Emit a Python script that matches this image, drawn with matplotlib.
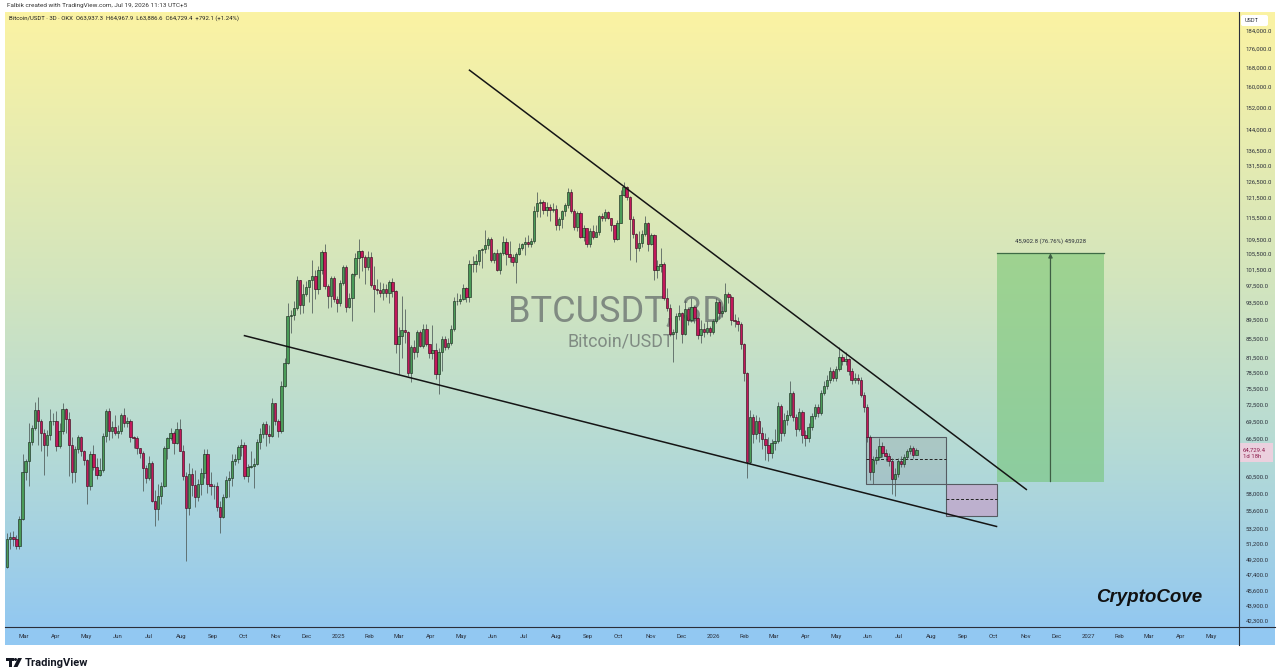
import numpy as np
import pandas as pd
import matplotlib
matplotlib.use("Agg")
import matplotlib.pyplot as plt
import matplotlib.dates as mdates
import matplotlib.ticker as mticker
from matplotlib.patches import Rectangle, Polygon, Circle, FancyBboxPatch
from matplotlib.colors import LinearSegmentedColormap

plt.rcParams['font.family'] = ['Roboto', 'DejaVu Sans']

# ---------------- data (prices in thousand USDT, 3-day candles) ----------------
first_candle = "2024-02-14"
first_open = 48.3
closes = [
    51.8, 52.1, 51.8, 51.0, 54.5, 61.2, 63.0, 66.1, 68.3, 71.5,
    69.5, 67.6, 65.5, 67.2, 69.5, 69.6, 65.4, 67.8, 71.6, 70.0,
    65.6, 61.3, 64.9, 66.8, 64.5, 63.1, 59.1, 64.0, 62.0, 60.8,
    61.6, 67.0, 71.4, 67.9, 68.5, 67.6, 67.8, 70.6, 69.3, 69.6,
    66.8, 66.6, 65.0, 64.3, 61.8, 60.3, 62.7, 57.0, 55.9, 57.7,
    59.2, 65.0, 66.7, 67.6, 65.8, 68.2, 64.6, 60.7, 56.0, 60.9,
    59.3, 57.6, 59.4, 61.1, 64.1, 59.4, 59.1, 59.1, 56.2, 54.8,
    57.6, 60.0, 60.3, 63.0, 63.3, 65.2, 65.6, 60.6, 62.1, 62.2,
    62.5, 66.0, 67.4, 69.0, 67.4, 67.0, 72.7, 69.5, 67.8, 75.9,
    80.4, 90.4, 90.6, 92.3, 98.9, 93.0, 95.6, 97.2, 98.8, 99.9,
    96.6, 101.4, 106.1, 97.5, 94.9, 99.4, 94.3, 93.4, 98.1, 102.1,
    92.5, 94.5, 100.5, 104.5, 106.2, 104.7, 102.1, 104.7, 97.7, 96.6,
    96.5, 95.8, 96.6, 95.8, 98.3, 96.3, 84.3, 86.0, 87.2, 86.8,
    78.5, 83.7, 82.6, 86.8, 83.8, 87.5, 84.3, 82.5, 83.1, 78.3,
    82.6, 85.3, 83.7, 84.5, 87.5, 93.8, 93.8, 94.2, 96.9, 94.7,
    103.0, 102.8, 103.6, 106.5, 106.8, 107.8, 109.4, 103.9, 105.8, 101.5,
    105.7, 108.6, 105.6, 104.6, 103.3, 105.5, 107.2, 108.3, 108.8, 108.2,
    108.9, 117.5, 119.8, 120.0, 117.8, 118.7, 117.6, 117.9, 113.3, 115.0,
    117.5, 119.3, 123.3, 117.4, 112.9, 116.9, 110.1, 112.5, 108.2, 111.7,
    110.2, 111.5, 116.0, 115.3, 117.1, 115.3, 113.3, 109.6, 114.0, 122.3,
    124.7, 121.5, 115.0, 111.0, 107.0, 108.5, 110.9, 114.1, 108.3, 110.6,
    101.3, 102.3, 103.0, 94.5, 92.2, 86.5, 86.8, 90.4, 91.0, 86.5,
    92.0, 89.5, 92.5, 90.0, 86.2, 87.5, 86.8, 87.8, 86.8, 89.2,
    93.5, 91.0, 91.5, 95.5, 94.8, 89.5, 89.2, 88.5, 84.2, 78.4,
    62.8, 70.2, 67.4, 69.6, 67.6, 66.5, 65.6, 64.2, 65.8, 66.2,
    72.2, 67.6, 69.8, 70.6, 74.6, 70.2, 68.2, 71.2, 67.2, 66.6,
    68.6, 70.4, 72.0, 71.0, 74.6, 76.0, 77.0, 78.8, 77.4, 79.2,
    81.6, 80.8, 81.2, 78.8, 77.0, 77.5, 77.0, 74.3, 72.0, 66.8,
    61.3, 63.2, 63.6, 65.3, 64.3, 63.8, 63.0, 60.2, 61.0, 63.0,
    62.5, 63.6, 64.5, 65.1, 63.9373, 64.7294]
highs = [
    52.6, 52.8, 52.9, 52.4, 54.9, 64.0, 63.3, 69.2, 68.9, 72.9,
    73.8, 70.0, 68.2, 68.0, 71.7, 70.9, 71.3, 69.3, 72.7, 71.8,
    71.2, 66.8, 65.4, 67.2, 67.0, 64.7, 63.3, 64.5, 65.5, 63.5,
    63.4, 67.5, 71.6, 71.9, 69.5, 70.6, 68.8, 71.0, 71.9, 70.2,
    70.0, 67.0, 67.0, 65.1, 64.6, 62.4, 63.8, 63.0, 58.5, 59.4,
    59.8, 65.3, 66.9, 68.4, 67.8, 69.4, 70.0, 65.6, 61.2, 62.7,
    61.8, 61.5, 60.2, 61.8, 64.9, 64.9, 61.2, 59.5, 59.8, 57.0,
    58.0, 60.6, 61.4, 64.1, 64.0, 65.5, 66.5, 66.0, 62.5, 64.5,
    63.4, 66.5, 68.4, 69.4, 69.5, 68.8, 73.6, 72.8, 70.0, 76.9,
    81.5, 93.3, 91.8, 93.8, 99.8, 99.0, 98.0, 98.6, 99.0, 104.0,
    101.3, 102.5, 106.5, 108.3, 98.0, 99.9, 99.8, 95.0, 98.9, 102.7,
    102.7, 95.8, 100.7, 105.8, 109.6, 106.5, 105.3, 106.4, 106.0, 102.5,
    99.2, 98.5, 98.1, 97.8, 98.8, 99.5, 96.5, 88.0, 95.0, 92.0,
    87.0, 84.0, 85.2, 87.4, 87.4, 88.6, 88.6, 84.4, 88.4, 84.6,
    83.5, 86.0, 86.0, 85.5, 88.4, 94.7, 95.8, 95.5, 97.9, 97.2,
    104.0, 105.0, 105.5, 106.7, 107.2, 112.0, 110.2, 110.0, 106.0, 106.8,
    106.0, 110.4, 109.8, 108.9, 105.6, 106.0, 108.5, 108.5, 110.0, 110.6,
    109.8, 118.9, 123.2, 120.9, 120.8, 120.2, 119.5, 119.8, 119.2, 115.8,
    117.6, 119.7, 124.4, 124.2, 117.9, 117.4, 117.4, 113.5, 112.6, 112.5,
    113.4, 113.3, 116.4, 116.8, 117.9, 117.5, 115.5, 113.5, 114.8, 123.8,
    126.2, 124.9, 122.0, 115.9, 111.2, 111.7, 112.0, 116.0, 114.3, 111.2,
    110.8, 104.0, 107.0, 103.4, 96.9, 93.2, 87.5, 91.0, 92.8, 91.3,
    94.0, 92.5, 94.6, 92.8, 90.2, 89.5, 88.8, 89.2, 88.2, 89.8,
    94.6, 94.0, 92.6, 98.2, 96.0, 95.2, 90.8, 90.2, 89.0, 84.5,
    78.6, 71.5, 70.8, 70.6, 70.2, 68.5, 67.5, 66.8, 66.5, 68.2,
    72.9, 72.5, 71.0, 71.5, 76.8, 74.9, 70.8, 71.8, 71.5, 68.0,
    69.2, 71.0, 72.6, 72.6, 75.1, 76.9, 78.0, 79.6, 79.2, 79.8,
    83.7, 82.2, 82.6, 81.5, 79.4, 78.5, 78.2, 77.6, 74.8, 72.5,
    67.2, 63.8, 64.8, 66.7, 66.0, 64.9, 64.2, 63.4, 61.8, 63.4,
    63.8, 64.0, 64.9, 65.6, 65.4, 64.9679]
lows = [
    48.2, 50.6, 50.9, 50.6, 50.5, 54.4, 60.0, 59.2, 65.6, 68.0,
    65.6, 64.5, 60.8, 63.8, 66.4, 68.9, 64.5, 65.0, 67.4, 67.5,
    60.7, 59.6, 59.7, 64.2, 63.7, 62.4, 56.5, 58.6, 61.6, 60.2,
    60.6, 61.3, 66.1, 66.3, 66.6, 67.1, 66.6, 67.3, 68.5, 68.5,
    66.0, 65.1, 64.1, 63.4, 58.4, 59.6, 60.1, 56.8, 53.5, 54.3,
    56.6, 59.0, 63.3, 66.4, 64.0, 65.7, 64.5, 60.0, 49.1, 55.0,
    57.7, 56.1, 57.0, 57.9, 60.3, 58.1, 57.8, 57.2, 55.6, 52.6,
    54.6, 57.4, 57.5, 59.2, 62.4, 62.7, 63.8, 60.2, 59.8, 61.8,
    58.9, 62.4, 64.8, 66.7, 65.3, 65.8, 66.8, 68.8, 66.8, 67.5,
    75.7, 80.2, 86.6, 89.4, 91.8, 90.8, 91.0, 94.9, 93.6, 91.0,
    94.2, 95.6, 100.5, 96.8, 92.2, 92.5, 93.5, 91.3, 92.7, 97.7,
    91.2, 92.2, 89.3, 99.9, 99.5, 101.2, 97.8, 101.5, 97.1, 91.2,
    95.5, 94.7, 94.0, 94.8, 93.4, 94.8, 82.5, 78.2, 81.4, 84.6,
    77.8, 76.6, 81.2, 81.7, 83.6, 83.5, 83.9, 81.5, 81.2, 77.3,
    74.5, 78.9, 83.0, 83.2, 84.0, 87.1, 92.8, 93.2, 94.0, 93.5,
    93.7, 100.8, 100.8, 102.6, 102.0, 105.8, 106.9, 103.5, 103.1, 101.2,
    100.4, 105.3, 102.7, 103.4, 102.3, 98.2, 105.3, 106.5, 105.2, 107.3,
    107.5, 108.4, 115.8, 115.7, 116.6, 116.0, 114.7, 117.3, 112.0, 111.9,
    112.7, 116.0, 118.2, 116.8, 112.1, 111.8, 109.8, 109.0, 107.5, 107.3,
    109.6, 110.0, 110.7, 114.6, 114.5, 115.0, 111.8, 108.6, 109.2, 113.9,
    121.8, 120.6, 104.0, 109.7, 103.5, 106.4, 107.3, 110.4, 106.3, 107.8,
    98.9, 99.3, 100.8, 94.0, 91.5, 86.1, 80.6, 85.3, 89.6, 84.5,
    86.2, 88.3, 89.0, 88.9, 85.3, 84.6, 85.8, 86.5, 86.0, 86.5,
    88.9, 89.8, 90.2, 91.2, 93.3, 88.4, 87.9, 87.0, 83.2, 76.8,
    60.3, 62.5, 65.8, 66.5, 66.0, 64.8, 63.2, 62.9, 63.5, 64.7,
    65.9, 66.2, 67.0, 68.8, 70.2, 69.5, 67.0, 67.8, 65.9, 65.3,
    66.1, 68.0, 69.9, 70.2, 70.6, 74.2, 75.3, 76.5, 76.8, 76.9,
    78.9, 79.9, 80.0, 78.0, 76.2, 76.5, 76.2, 73.8, 71.2, 66.0,
    60.0, 59.5, 62.5, 63.2, 63.6, 63.0, 62.2, 58.0, 57.7, 60.5,
    62.0, 62.1, 63.3, 64.0, 63.5, 63.8866]

price_ticks = [184000, 176000, 168000, 160000, 152000, 144000, 136500, 131500,
               126500, 121500, 115500, 109500, 105500, 101500, 97500, 93500,
               89500, 85500, 81500, 78500, 75500, 72500, 69500, 66500, 60500,
               58000, 55600, 53200, 51200, 49200, 47400, 45600, 43900, 42300]
month_start = "2024-03-01"
month_labels = ["Mar", "Apr", "May", "Jun", "Jul", "Aug", "Sep", "Oct", "Nov", "Dec",
                "2025", "Feb", "Mar", "Apr", "May", "Jun", "Jul", "Aug", "Sep", "Oct", "Nov", "Dec",
                "2026", "Feb", "Mar", "Apr", "May", "Jun", "Jul", "Aug", "Sep", "Oct", "Nov", "Dec",
                "2027", "Feb", "Mar", "Apr", "May"]

upper_line_dates = ["2025-05-09", "2026-11-02"]
upper_line_prices = [166870, 58650]
lower_line_dates = ["2024-10-02", "2026-10-04"]
lower_line_prices = [86070, 53480]
grey_box_dates = ["2026-05-30", "2026-08-16"]
grey_box_prices = [59520, 66900]
pink_box_dates = ["2026-08-16", "2026-10-04"]
pink_box_prices = [54950, 59520]
green_box_dates = ["2026-10-04", "2027-01-17"]
green_box_prices = [59800, 105702.8]
range_label = "45,902.8 (76.76%) 459,028"
last_price = 64729.4
last_price_text = "64,729.4"
countdown_text = "1d 18h"
header1 = "Falbik created with TradingView.com, Jul 19, 2026 11:13 UTC+5"
header2 = "Bitcoin/USDT \u00b7 3D \u00b7 OKX  O63,937.3  H64,967.9  L63,886.6  C64,729.4  +792.1 (+1.24%)"

# ---------------- figure layout (pixels) ----------------
W, H = 1280, 671
PL, PR, PT, PB = 5, 1239, 12, 627
AXR, TB = 1275, 645
fig = plt.figure(figsize=(W / 100, H / 100), dpi=100)
fig.patch.set_facecolor("white")


def fx(px):
    return px / W


def fy(py):
    return 1 - py / H


# background gradient
bg = fig.add_axes([fx(PL), fy(TB), fx(AXR) - fx(PL), fy(PT) - fy(TB)], zorder=0)
cmap = LinearSegmentedColormap.from_list(
    "bg", [(0.0, "#FBF3A3"), (0.42, "#D3E5BD"), (0.70, "#B4DAD6"), (1.0, "#8FC6F3")])
bg.imshow(np.linspace(0, 1, 256).reshape(-1, 1), aspect="auto", cmap=cmap,
          extent=[0, 1, 0, 1], origin="upper")
bg.axis("off")

# main price axes
ax = fig.add_axes([fx(PL), fy(PB), fx(PR) - fx(PL), fy(PT) - fy(PB)], zorder=2)
ax.patch.set_alpha(0)
ax.set_yscale("log")
ref = mdates.date2num(pd.Timestamp("2025-01-01"))
ax.set_xlim(ref - 324.1, ref + 877.0)
ax.set_ylim(41620, 192930)

opens = np.array([first_open] + closes[:-1]) * 1000
c = np.array(closes) * 1000
h = np.array(highs) * 1000
l = np.array(lows) * 1000
dates = pd.date_range(first_candle, periods=len(closes), freq="3D")
x = mdates.date2num(dates)
up = c >= opens

green, red = "#4A9B58", "#C2185B"
ax.vlines(x, l, h, color="#4E5A58", lw=0.7, alpha=0.8, zorder=3)
ax.bar(x[up], (c - opens)[up], bottom=opens[up], width=2.3, color=green,
       edgecolor="#1E2E22", linewidth=0.45, zorder=4)
ax.bar(x[~up], (opens - c)[~up], bottom=c[~up], width=2.3, color=red,
       edgecolor="#3A1020", linewidth=0.45, zorder=4)

# trend lines
ax.plot(mdates.date2num(pd.to_datetime(upper_line_dates)), upper_line_prices,
        color="#151515", lw=1.1, zorder=5)
ax.plot(mdates.date2num(pd.to_datetime(lower_line_dates)), lower_line_prices,
        color="#151515", lw=1.1, zorder=5)


def box(dts, prices, face, alpha, edge, mid=True):
    x0, x1 = mdates.date2num(pd.to_datetime(dts))
    ax.add_patch(Rectangle((x0, prices[0]), x1 - x0, prices[1] - prices[0],
                           facecolor=face, alpha=alpha, edgecolor="none", zorder=2.5))
    ax.add_patch(Rectangle((x0, prices[0]), x1 - x0, prices[1] - prices[0],
                           facecolor="none", edgecolor=edge, lw=0.8, zorder=2.6))
    if mid:
        m = (prices[0] + prices[1]) / 2
        ax.plot([x0, x1], [m, m], color="#222222", lw=0.7, ls=(0, (3, 2)), zorder=2.7)


box(grey_box_dates, grey_box_prices, "#8A8F96", 0.25, "#555B62")
box(pink_box_dates, pink_box_prices, "#C3A8CB", 0.8, "#555B62")

gx0, gx1 = mdates.date2num(pd.to_datetime(green_box_dates))
ax.add_patch(Rectangle((gx0, green_box_prices[0]), gx1 - gx0,
                       green_box_prices[1] - green_box_prices[0],
                       facecolor="#6CC26A", alpha=0.52, edgecolor="none", zorder=2.5))
ax.plot([gx0, gx1], [green_box_prices[1]] * 2, color="#3E6B45", lw=0.9, zorder=2.7)
gxm = (gx0 + gx1) / 2
ax.annotate("", xy=(gxm, green_box_prices[1]), xytext=(gxm, green_box_prices[0]),
            arrowprops=dict(arrowstyle="-|>", color="#3E5E44", lw=0.9,
                            mutation_scale=6, shrinkA=0, shrinkB=0), zorder=2.8)
ax.annotate(range_label, xy=(gxm, green_box_prices[1]), xytext=(0, 8.5),
            textcoords="offset points", ha="center", va="center",
            fontsize=4.3, color="#2A2E39", zorder=6)

# axes ticks
ax.yaxis.tick_right()
ax.set_yticks(price_ticks)
ax.set_yticklabels([f"{v:,.1f}" for v in price_ticks])
ax.yaxis.set_minor_locator(mticker.NullLocator())
ax.yaxis.set_minor_formatter(mticker.NullFormatter())
ax.tick_params(axis="y", length=0, pad=5, labelsize=4.3, colors="#2A2E39")
month_ticks = pd.date_range(month_start, periods=len(month_labels), freq="MS")
ax.set_xticks(mdates.date2num(month_ticks))
ax.set_xticklabels(month_labels)
ax.tick_params(axis="x", length=0, pad=5.0, labelsize=4.3, colors="#2A2E39")
for s in ax.spines.values():
    s.set_visible(False)

# overlay in pixel coordinates
ov = fig.add_axes([0, 0, 1, 1], zorder=1)
ov.set_xlim(0, W)
ov.set_ylim(H, 0)
ov.axis("off")
ov.patch.set_alpha(0)
ov.add_patch(Rectangle((PL, PB), AXR - PL, TB - PB, facecolor="#92C8F2", edgecolor="none"))
ov.text(617, 322, "BTCUSDT, 3D", fontsize=26, color="#737C77", alpha=0.85,
        ha="center", va="baseline", family=["Roboto", "DejaVu Sans"])
ov.text(621, 346.5, "Bitcoin/USDT", fontsize=12.8, color="#737C77", alpha=0.85,
        ha="center", va="baseline", family=["Roboto", "DejaVu Sans"])

top = fig.add_axes([0, 0, 1, 1], zorder=8)
top.set_xlim(0, W)
top.set_ylim(H, 0)
top.axis("off")
top.patch.set_alpha(0)
top.plot([PR, PR], [PT, TB], color="#2A2E39", lw=0.8)
top.plot([PL, AXR], [PB, PB], color="#2A2E39", lw=0.8)
top.add_patch(FancyBboxPatch((1241, 15), 27, 11, boxstyle="round,pad=0,rounding_size=2",
                             facecolor="white", edgecolor="none"))
top.text(1245, 20.5, "USDT", fontsize=4, color="#2A2E39", va="center", ha="left")

# last price label
ydisp = ax.transData.transform((ref, last_price))[1]
ylp = top.transData.inverted().transform((0, ydisp))[1]
top.add_patch(Rectangle((1240, ylp - 7), 33, 19, facecolor="#EBD0DE", edgecolor="none"))
top.text(1243, ylp, last_price_text, fontsize=4.3, color="#8E1F4E", va="center", ha="left")
top.text(1243, ylp + 6.5, countdown_text, fontsize=4.3, color="#8E1F4E", va="center", ha="left")

# header
top.text(7, 5, header1, fontsize=4.6, color="#333333", va="center", ha="left")
top.text(9, 18, header2, fontsize=4.3, color="#222222", va="center", ha="left")

# signature
top.text(1149, 598, "CryptoCove", fontsize=13.5, fontweight="bold", style="italic",
         family=["Liberation Sans", "DejaVu Sans"], ha="center", va="center", color="#111111")

# TradingView logo
top.add_patch(Rectangle((6, 658), 8, 3, facecolor="#131722", edgecolor="none"))
top.add_patch(Rectangle((9, 658), 3, 9, facecolor="#131722", edgecolor="none"))
top.add_patch(Circle((15.5, 659.5), 1.5, facecolor="#131722", edgecolor="none"))
top.add_patch(Polygon([(18, 658), (22, 658), (17.5, 667), (13.5, 667)],
                      facecolor="#131722", edgecolor="none"))
top.text(25, 662.5, "TradingView", fontsize=8, fontweight="bold", color="#131722",
         va="center", ha="left")

fig.savefig("out.png", dpi=100, facecolor="white")
